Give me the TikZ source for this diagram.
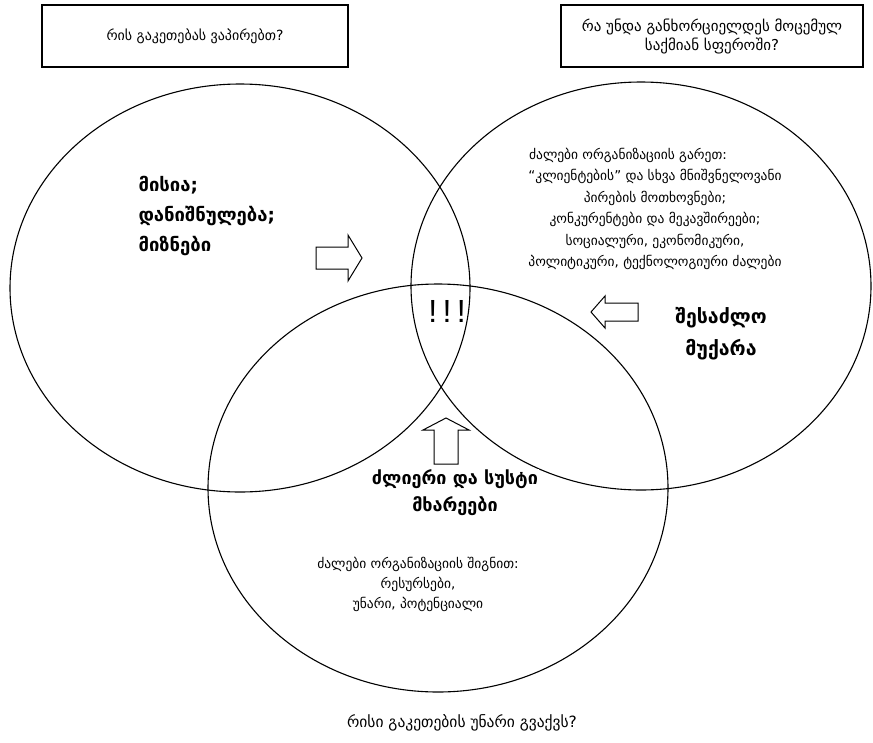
\documentclass[tikz,border=0pt]{standalone}
\usepackage{fontspec}
\setmainfont{DejaVu Sans}
\newfontfamily\exclfont{Liberation Sans}
\usetikzlibrary{shapes.geometric}

\begin{document}
\begin{tikzpicture}[x=1pt,y=-1pt,
  line width=1.1pt,
  circ/.style={draw, ellipse, minimum width=460pt, minimum height=408pt, inner sep=0pt},
  qbox/.style={draw, rectangle, inner sep=0pt, align=center},
  plain/.style={align=center, inner sep=1pt, font=\fontsize{13.5}{21.5}\selectfont},
  heavy/.style={align=center, inner sep=1pt, font=\bfseries\fontsize{18.5}{30}\selectfont},
  blockarrow/.style={draw, fill=white, line width=1pt, line join=miter}
]
\useasboundingbox (0,0) rectangle (873,742);

% the three overlapping areas
\node[circ] (left)   at (240,288) {};
\node[circ] (right)  at (641,286) {};
\node[circ] (bottom) at (438,488) {};

% question boxes
\node[qbox, minimum width=306pt, minimum height=62pt,
      font=\fontsize{14}{20}\selectfont] (qleft) at (195,36)
  {რის გაკეთებას ვაპირებთ?};
\node[qbox, minimum width=302pt, minimum height=62pt,
      font=\fontsize{15}{19}\selectfont] (qright) at (712,36)
  {რა უნდა განხორციელდეს მოცემულ\\საქმიან სფეროში?};

% texts inside the areas
\node[heavy, align=left, anchor=west] (mission) at (137,216)
  {მისია;\\დანიშნულება;\\მიზნები};
\node[plain] (outside) at (655,209)
  {ძალები ორგანიზაციის გარეთ:\hspace*{54pt}\\
   “კლიენტების” და სხვა მნიშვნელოვანი\\
   პირების მოთხოვნები;\\
   კონკურენტები და მეკავშირეები;\\
   სოციალური, ეკონომიკური,\\
   პოლიტიკური, ტექნოლოგიური ძალები};
\node[heavy, font=\bfseries\fontsize{19.5}{32}\selectfont] (threat) at (721,334)
  {შესაძლო\\მუქარა};
\node[font=\exclfont\fontsize{32}{32}\selectfont, inner sep=0pt] (focus) at (447,311) {!\,!\,!};
\node[heavy, fill=white, font=\bfseries\fontsize{18}{27}\selectfont] (strengths) at (455,493)
  {ძლიერი და სუსტი\\მხარეები};
\node[plain, font=\fontsize{13.5}{20}\selectfont] (inside) at (418,584)
  {ძალები ორგანიზაციის შიგნით:\\რესურსები,\\უნარი, პოტენციალი};
\node[plain, font=\fontsize{15.5}{20}\selectfont] (qbottom) at (462,723)
  {რისი გაკეთების უნარი გვაქვს?};

% hollow block arrows
\draw[blockarrow] (316,247) -- (348,247) -- (348,235) -- (362,258)
  -- (348,281) -- (348,269) -- (316,269) -- cycle;
\draw[blockarrow] (638,303) -- (605,303) -- (605,296) -- (591,312)
  -- (605,328) -- (605,321) -- (638,321) -- cycle;
\draw[blockarrow] (434,464) -- (434,430) -- (423,430) -- (446,418)
  -- (469,430) -- (458,430) -- (458,464) -- cycle;
\end{tikzpicture}
\end{document}
